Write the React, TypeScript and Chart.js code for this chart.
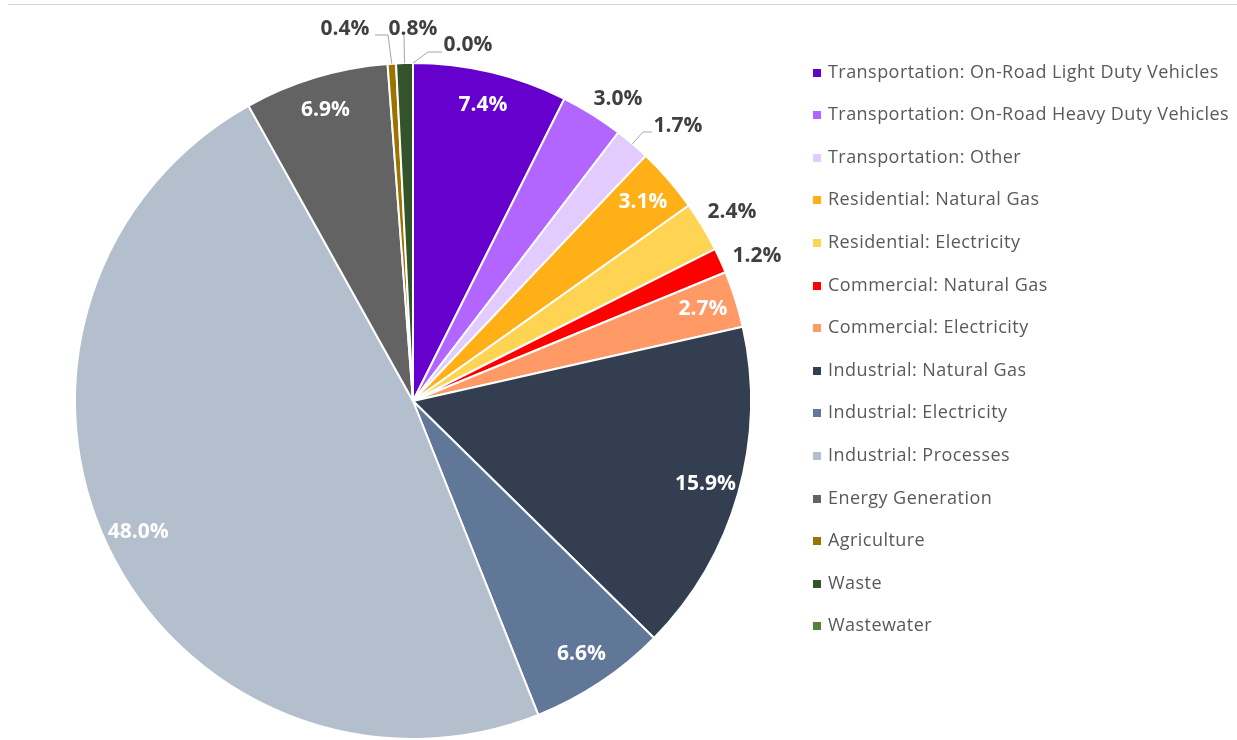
import React, { useEffect, useRef } from "react";
import { Chart, registerables } from "chart.js";

Chart.register(...registerables);

const categories = [
  "Transportation: On-Road Light Duty Vehicles",
  "Transportation: On-Road Heavy Duty Vehicles",
  "Transportation: Other",
  "Residential: Natural Gas",
  "Residential: Electricity",
  "Commercial: Natural Gas",
  "Commercial: Electricity",
  "Industrial: Natural Gas",
  "Industrial: Electricity",
  "Industrial: Processes",
  "Energy Generation",
  "Agriculture",
  "Waste",
  "Wastewater",
];

const shares = [7.4, 3.0, 1.7, 3.1, 2.4, 1.2, 2.7, 15.9, 6.6, 48.0, 6.9, 0.4, 0.8, 0.0];

const shareLabels = ["7.4%", "3.0%", "1.7%", "3.1%", "2.4%", "1.2%", "2.7%", "15.9%", "6.6%", "48.0%", "6.9%", "0.4%", "0.8%", "0.0%"];

const sliceColors = [
  "#6600CC",
  "#B266FF",
  "#E2CCFF",
  "#FFB016",
  "#FFD452",
  "#FF0000",
  "#FF9966",
  "#333F50",
  "#617797",
  "#B4BFCD",
  "#636363",
  "#9C7200",
  "#33542A",
  "#548235",
];

// label placement: "in" = inside the slice; "out" = offset from pie centre (px at R=338) with optional leader elbow points
type Placement = { mode: "in" } | { mode: "out"; at: [number, number]; leader?: [number, number][] };
const labelPlacement: Placement[] = [
  { mode: "in" },
  { mode: "out", at: [205, -302] },
  { mode: "out", at: [265, -275], leader: [[230, -269], [239, -269]] },
  { mode: "in" },
  { mode: "out", at: [319, -189] },
  { mode: "out", at: [344, -145] },
  { mode: "in" },
  { mode: "in" },
  { mode: "in" },
  { mode: "in" },
  { mode: "in" },
  { mode: "out", at: [-68, -372], leader: [[-25, -366], [-38, -366]] },
  { mode: "out", at: [0, -372], leader: [[-9, -366]] },
  { mode: "out", at: [55, -356], leader: [[15, -349], [29, -349]] },
];

const LABEL_FONT = 'bold 21px "Open Sans", sans-serif';
const LEGEND_FONT = '18px "Open Sans", sans-serif';

export default function App() {
  const ref = useRef<HTMLCanvasElement>(null);

  useEffect(() => {
    if (!ref.current) return;

    const labelPlugin = {
      id: "sliceLabels",
      afterDatasetsDraw(chart: any) {
        const ctx = chart.ctx;
        const meta = chart.getDatasetMeta(0);
        ctx.save();
        ctx.font = LABEL_FONT;
        ctx.textAlign = "center";
        ctx.textBaseline = "middle";
        meta.data.forEach((arc: any, i: number) => {
          const p = arc.getProps(["x", "y", "startAngle", "endAngle", "outerRadius"], true);
          const mid = (p.startAngle + p.endAngle) / 2;
          const R = p.outerRadius;
          const k = R / 338;
          const pl = labelPlacement[i];
          if (pl.mode === "in") {
            const r = R * 0.9;
            ctx.fillStyle = "#FFFFFF";
            ctx.fillText(shareLabels[i], p.x + r * Math.cos(mid), p.y + r * Math.sin(mid));
          } else {
            if (pl.leader) {
              ctx.strokeStyle = "#A6A6A6";
              ctx.lineWidth = 1;
              ctx.beginPath();
              ctx.moveTo(p.x + R * Math.cos(mid), p.y + R * Math.sin(mid));
              pl.leader.forEach(([dx, dy]) => ctx.lineTo(p.x + dx * k, p.y + dy * k));
              ctx.stroke();
            }
            ctx.fillStyle = "#404040";
            ctx.fillText(shareLabels[i], p.x + pl.at[0] * k, p.y + pl.at[1] * k);
          }
        });
        ctx.restore();
      },
    };

    const legendPlugin = {
      id: "sideLegend",
      afterDraw(chart: any) {
        const ctx = chart.ctx;
        const area = chart.chartArea;
        const x0 = area.right + 61;
        const y0 = 72.5;
        const step = 42.6;
        ctx.save();
        ctx.font = LEGEND_FONT;
        try {
          (ctx as any).letterSpacing = "0.45px";
        } catch (e) {}
        ctx.textAlign = "left";
        ctx.textBaseline = "middle";
        const labels = chart.data.labels as string[];
        const bg = chart.data.datasets[0].backgroundColor as string[];
        labels.forEach((lab, i) => {
          const y = y0 + i * step;
          ctx.fillStyle = bg[i];
          ctx.fillRect(x0, Math.round(y - 4), 8, 8);
          ctx.fillStyle = "#595959";
          ctx.fillText(lab, x0 + 15, y);
        });
        ctx.restore();
      },
    };

    const chart = new Chart(ref.current, {
      type: "pie",
      data: {
        labels: categories,
        datasets: [
          {
            data: shares,
            backgroundColor: sliceColors,
            borderColor: "#FFFFFF",
            borderWidth: 2,
          },
        ],
      },
      options: {
        responsive: false,
        animation: false,
        layout: { padding: { left: 74, top: 62, right: 485, bottom: 0 } },
        plugins: {
          legend: { display: false },
          tooltip: { enabled: false },
        },
      },
      plugins: [labelPlugin, legendPlugin],
    });

    return () => chart.destroy();
  }, []);

  return (
    <div style={{ position: "fixed", left: 0, top: 0, width: 1237, height: 740, background: "#FFFFFF", overflow: "hidden" }}>
      <div style={{ position: "absolute", left: 8, right: 0, top: 4, height: 1, background: "#D9D9D9" }} />
      <canvas ref={ref} width={1237} height={740} style={{ position: "absolute", left: 0, top: 0 }} />
    </div>
  );
}
